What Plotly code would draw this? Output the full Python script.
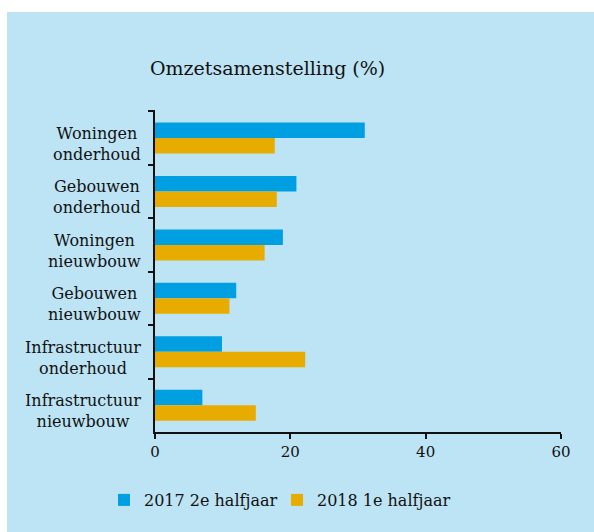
import plotly.graph_objects as go

categories = ["Woningen<br>onderhoud", "Gebouwen<br>onderhoud", "Woningen<br>nieuwbouw",
              "Gebouwen<br>nieuwbouw", "Infrastructuur<br>onderhoud", "Infrastructuur<br>nieuwbouw"]
series_names = ["2017 2e halfjaar", "2018 1e halfjaar"]
values_2017 = [31.0, 20.9, 18.9, 12.0, 9.9, 7.0]
values_2018 = [17.7, 18.0, 16.2, 11.0, 22.2, 14.9]
x_ticks = [0, 20, 40, 60]

BLUE = "#009FE2"
ORANGE = "#E8AC00"
BG = "#BDE4F5"
FONT = "DejaVu Serif"

W, H = 594, 532
ML, MR, MT, MB = 155, 33, 110, 100
PW, PH = W - ML - MR, H - MT - MB

fig = go.Figure()
fig.add_trace(go.Bar(y=categories, x=values_2017, name=series_names[0], orientation="h",
                     marker=dict(color=BLUE, line=dict(width=0)), legend="legend"))
fig.add_trace(go.Bar(y=categories, x=values_2018, name=series_names[1], orientation="h",
                     marker=dict(color=ORANGE, line=dict(width=0)), legend="legend2"))

for c in categories:
    fig.add_annotation(x=0, xref="paper", y=c, yref="y", text=c, showarrow=False,
                       xanchor="right", align="center", xshift=-12, yshift=-6,
                       font=dict(family=FONT, size=16, color="#111111"))

# white frame strips (left 7px, top 12px)
fig.add_shape(type="rect", xref="paper", yref="paper",
              x0=-ML / PW, x1=(7 - ML) / PW, y0=-MB / PH, y1=1 + MT / PH,
              fillcolor="white", line=dict(width=0), layer="below")
fig.add_shape(type="rect", xref="paper", yref="paper",
              x0=-ML / PW, x1=1 + MR / PW, y0=1 + (MT - 12) / PH, y1=1 + MT / PH,
              fillcolor="white", line=dict(width=0), layer="below")

legend_common = dict(orientation="h", xanchor="left", y=(432 - 500) / PH, yanchor="middle",
                     font=dict(family=FONT, size=16, color="#111111"),
                     bgcolor="rgba(0,0,0,0)")

fig.update_layout(
    width=W, height=H,
    margin=dict(l=ML, r=MR, t=MT, b=MB),
    paper_bgcolor=BG, plot_bgcolor=BG,
    barmode="group", bargap=0.42, bargroupgap=0,
    font=dict(family=FONT, size=15, color="#111111"),
    title=dict(text="Omzetsamenstelling (%)", x=150 / W, xref="container", xanchor="left",
               y=1 - 68 / H, yref="container", yanchor="middle",
               font=dict(family=FONT, size=19, color="#111111")),
    xaxis=dict(range=[0, 60], tickvals=x_ticks, showgrid=False, zeroline=False,
               showline=True, linecolor="#111111", linewidth=2,
               ticks="outside", ticklen=5, tickwidth=2, tickcolor="#111111",
               tickfont=dict(family=FONT, size=15, color="#111111")),
    yaxis=dict(autorange="reversed", showgrid=False, zeroline=False, showticklabels=False,
               showline=True, linecolor="#111111", linewidth=1.5,
               ticks="outside", ticklen=5, tickwidth=1.5, tickcolor="#111111",
               tickson="boundaries"),
    showlegend=True,
    legend=dict(x=(104 - ML) / PW, **legend_common),
    legend2=dict(x=(277 - ML) / PW, **legend_common),
)

fig.write_html("out.html", config={"displayModeBar": False},
               post_script="document.body.style.margin='0';document.body.style.overflow='hidden';")
